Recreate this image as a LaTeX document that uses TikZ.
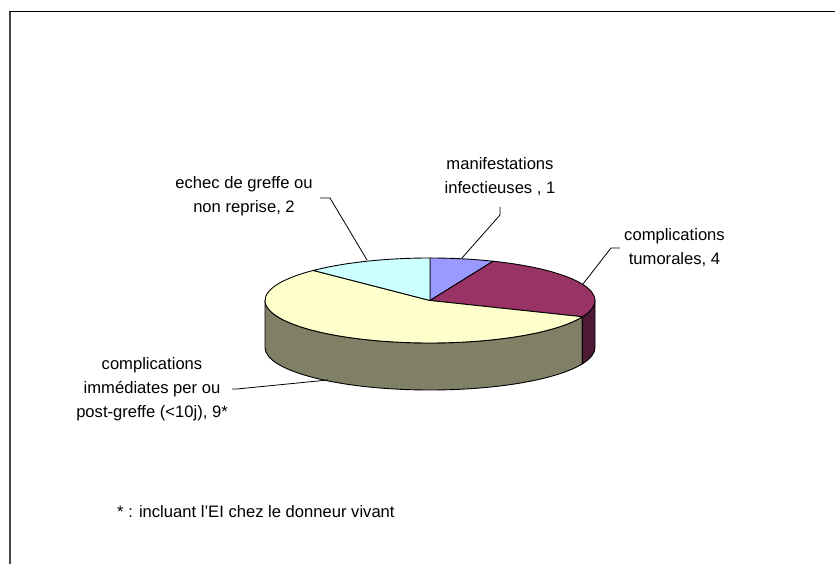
\documentclass[tikz,border=0pt]{standalone}
\usepackage{fontspec}
\setmainfont{Liberation Sans}
\definecolor{infc}{HTML}{9999FF}
\definecolor{tumc}{HTML}{993366}
\definecolor{tumside}{HTML}{4D1A33}
\definecolor{immc}{HTML}{FFFFCC}
\definecolor{immside}{HTML}{808066}
\definecolor{echc}{HTML}{CCFFFF}
\definecolor{framegray}{HTML}{444444}
\begin{document}
\begin{tikzpicture}[x=1pt,y=1pt,
  lbl/.style={font=\fontsize{16.6}{24}\selectfont, align=center, inner sep=0pt},
  slice/.style={draw=black, line width=0.9pt, line join=round},
  leader/.style={draw=black, line width=0.8pt}]
\useasboundingbox (0,0) rectangle (835,564);
\fill[white] (0,0) rectangle (835,564);
% frame
\draw[framegray, line width=2pt] (10,553) -- (10,-5);
\draw[black, line width=1pt] (9,552.5) -- (840,552.5);
\def\cx{430}\def\cy{263.5}\def\ra{165}\def\rb{42.5}\def\dep{47}
% sides
\filldraw[slice, fill=immside] ({\cx+\ra*cos(-22.5)},{\cy+\rb*sin(-22.5)})
  arc[start angle=-22.5, end angle=-180, x radius=\ra, y radius=\rb]
  -- ++(0,-\dep)
  arc[start angle=-180, end angle=-22.5, x radius=\ra, y radius=\rb] -- cycle;
\filldraw[slice, fill=tumside] ({\cx+\ra*cos(0)},{\cy+\rb*sin(0)})
  arc[start angle=0, end angle=-22.5, x radius=\ra, y radius=\rb]
  -- ++(0,-\dep)
  arc[start angle=-22.5, end angle=0, x radius=\ra, y radius=\rb] -- cycle;
% top faces
\filldraw[slice, fill=infc] (\cx,\cy) -- ({\cx+\ra*cos(90)},{\cy+\rb*sin(90)})
  arc[start angle=90, end angle=67.5, x radius=\ra, y radius=\rb] -- cycle;
\filldraw[slice, fill=tumc] (\cx,\cy) -- ({\cx+\ra*cos(67.5)},{\cy+\rb*sin(67.5)})
  arc[start angle=67.5, end angle=-22.5, x radius=\ra, y radius=\rb] -- cycle;
\filldraw[slice, fill=immc] (\cx,\cy) -- ({\cx+\ra*cos(-22.5)},{\cy+\rb*sin(-22.5)})
  arc[start angle=-22.5, end angle=-225, x radius=\ra, y radius=\rb] -- cycle;
\filldraw[slice, fill=echc] (\cx,\cy) -- ({\cx+\ra*cos(135)},{\cy+\rb*sin(135)})
  arc[start angle=135, end angle=90, x radius=\ra, y radius=\rb] -- cycle;
% labels
\node[lbl] (inf) at (500,387) {manifestations\\infectieuses , 1};
\node[lbl] (tum) at (674.5,316) {complications\\tumorales, 4};
\node[lbl] (ech) at (244,368) {echec de greffe ou\\non reprise, 2};
\node[lbl] (imm) at (152,175) {complications\\immédiates per ou\\post-greffe (<10j), 9*};
\node[lbl, anchor=west] (note) at (117,52) {* : incluant l\symbol{39}EI chez le donneur vivant};
% leader coordinates
\coordinate (infa) at (500,357);
\coordinate (infb) at (500,349);
\coordinate (infp) at (462,306);
\coordinate (tuma) at (620,316);
\coordinate (tumb) at (611,316);
\coordinate (tump) at (583,280);
\coordinate (echa) at (320,366);
\coordinate (echb) at (330,366);
\coordinate (echp) at (367,304);
\coordinate (imma) at (232,175);
\coordinate (immb) at (237,175);
\coordinate (immp) at (328,184);
\draw[leader] (infa) -- (infb) -- (infp);
\draw[leader] (tuma) -- (tumb) -- (tump);
\draw[leader] (echa) -- (echb) -- (echp);
\draw[leader] (imma) -- (immb) -- (immp);
\end{tikzpicture}
\end{document}
